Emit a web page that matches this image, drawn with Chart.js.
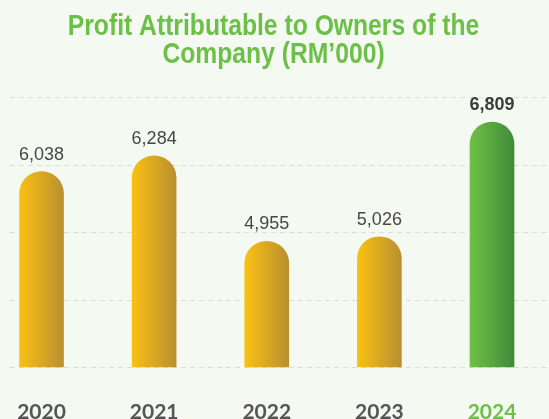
<!DOCTYPE html>
<html>
<head>
<meta charset="utf-8">
<script src="https://cdn.jsdelivr.net/npm/chart.js@4.4.1/dist/chart.umd.min.js"></script>
<style>
  html, body { margin: 0; padding: 0; background: #f4f9f1; }
  #wrap { width: 549px; height: 419px; }
</style>
</head>
<body>
<div id="wrap"><canvas id="profit-chart"></canvas></div>
<script>
const years = ["2020", "2021", "2022", "2023", "2024"];
const profit = [6038, 6284, 4955, 5026, 6809];
const titleLines = ["Profit Attributable to Owners of the", "Company (RM\u2019000)"];
const axisMin = 3000;
const axisMax = 7200;
const axisStep = 1050;

const highlight = years.length - 1;
const green = "#6cbf47";

const bgPlugin = {
  id: "bg",
  beforeDraw(chart) {
    const c = chart.ctx;
    c.save();
    c.fillStyle = "#f4f9f1";
    c.fillRect(0, 0, chart.width, chart.height);
    c.restore();
  },
};

// the original title uses a condensed bold face, so squeeze it a bit
const titlePlugin = {
  id: "narrowTitle",
  afterDraw(chart) {
    const c = chart.ctx;
    c.save();
    c.fillStyle = green;
    c.font = "bold 30px 'Liberation Sans', Arial, sans-serif";
    c.textAlign = "center";
    c.textBaseline = "alphabetic";
    c.translate(chart.width / 2 - 1, 0);
    c.scale(0.823, 1);
    c.fillText(titleLines[0], 0, 35);
    c.fillText(titleLines[1], 0, 63);
    c.restore();
  },
};

// dashed guide lines, drawn wider than the plot like the original
const gridPlugin = {
  id: "wideGrid",
  beforeDatasetsDraw(chart) {
    const c = chart.ctx;
    const y = chart.scales.y;
    c.save();
    c.strokeStyle = "#dcdfd9";
    c.lineWidth = 1;
    c.setLineDash([5, 4]);
    y.ticks.forEach((t) => {
      const py = Math.round(y.getPixelForValue(t.value)) + 0.5;
      c.beginPath();
      c.moveTo(10, py);
      c.lineTo(chart.width, py);
      c.stroke();
    });
    c.restore();
  },
};

const valueLabels = {
  id: "valueLabels",
  afterDatasetsDraw(chart) {
    const c = chart.ctx;
    const meta = chart.getDatasetMeta(0);
    c.save();
    c.textAlign = "center";
    c.textBaseline = "alphabetic";
    meta.data.forEach((bar, i) => {
      const isLast = i === highlight;
      c.font = (isLast ? "bold " : "") + "18px 'Liberation Sans', Arial, sans-serif";
      c.fillStyle = isLast ? "#3b3b3b" : "#474747";
      c.fillText(profit[i].toLocaleString("en-US"), bar.x, bar.y - 12);
    });
    c.restore();
  },
};

function barFill(ctx) {
  const chart = ctx.chart;
  if (!chart.chartArea) return "#e0b020";
  const x = chart.scales.x.getPixelForValue(ctx.dataIndex);
  const g = chart.ctx.createLinearGradient(x - 22, 0, x + 22, 0);
  if (ctx.dataIndex === highlight) {
    g.addColorStop(0, "#6fc046");
    g.addColorStop(1, "#3f8c3a");
  } else {
    g.addColorStop(0, "#f9c112");
    g.addColorStop(1, "#b98f30");
  }
  return g;
}

new Chart(document.getElementById("profit-chart"), {
  type: "bar",
  data: {
    labels: years,
    datasets: [
      {
        data: profit,
        base: axisMin,
        backgroundColor: barFill,
        barThickness: 44,
        borderRadius: 22,
        borderSkipped: "start",
        clip: false,
      },
    ],
  },
  options: {
    responsive: true,
    maintainAspectRatio: false,
    animation: false,
    layout: { padding: { left: 41.5, right: 57, top: 97, bottom: -39 } },
    plugins: {
      legend: { display: false },
      tooltip: { enabled: false },
      title: { display: false },
    },
    scales: {
      x: {
        offset: false,
        grid: { display: false, drawTicks: false },
        border: { display: false },
        afterFit: (scale) => {
          scale.paddingLeft = 0;
          scale.paddingRight = 0;
        },
        ticks: {
          padding: 35,
          color: (c) => (c.index === highlight ? green : "#555555"),
          font: { family: "Lato, 'Open Sans', sans-serif", size: 21, weight: "bold", lineHeight: 1 },
          autoSkip: false,
          maxRotation: 0,
        },
      },
      y: {
        display: false,
        min: axisMin,
        max: axisMax,
        ticks: { stepSize: axisStep },
      },
    },
  },
  plugins: [bgPlugin, gridPlugin, valueLabels, titlePlugin],
});
</script>
</body>
</html>
